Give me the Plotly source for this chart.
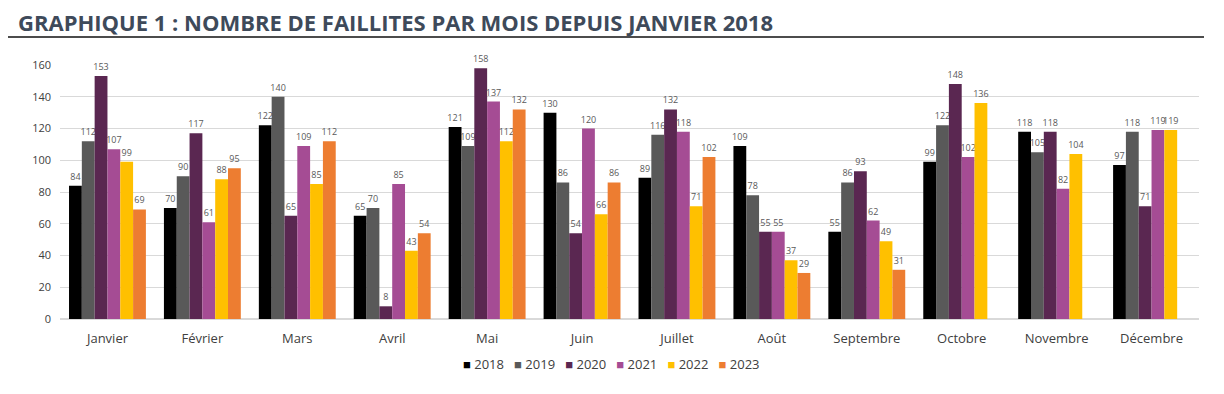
import plotly.graph_objects as go

months = ["Janvier", "Février", "Mars", "Avril", "Mai", "Juin", "Juillet",
          "Août", "Septembre", "Octobre", "Novembre", "Décembre"]
years = ["2018", "2019", "2020", "2021", "2022", "2023"]

v2018 = [84, 70, 122, 65, 121, 130, 89, 109, 55, 99, 118, 97]
v2019 = [112, 90, 140, 70, 109, 86, 116, 78, 86, 122, 105, 118]
v2020 = [153, 117, 65, 8, 158, 54, 132, 55, 93, 148, 118, 71]
v2021 = [107, 61, 109, 85, 137, 120, 118, 55, 62, 102, 82, 119]
v2022 = [99, 88, 85, 43, 112, 66, 71, 37, 49, 136, 104, 119]
v2023 = [69, 95, 112, 54, 132, 86, 102, 29, 31, None, None, None]

series = [v2018, v2019, v2020, v2021, v2022, v2023]
colors = ["#000000", "#595959", "#5A2751", "#A54C94", "#FFC000", "#ED7D31"]

# page body has an 8px margin: figure drawn from (8, 8)
OFF = 8
W, H = 1224 - OFF, 394 - OFF
ml, mr, mt, mb = 60 - OFF, 33 - OFF, 65 - OFF, 394 - 319

fig = go.Figure()
for name, vals, col in zip(years, series, colors):
    fig.add_trace(go.Bar(
        x=months, y=vals, name=name, marker_color=col, marker_line_width=0,
        text=[str(v) if v is not None else "" for v in vals],
        textposition="outside", cliponaxis=False,
        textfont=dict(size=9, color="#595959", family="Open Sans"),
        showlegend=False,
    ))

pw = W - ml - mr
ph = H - mt - mb

def px_x(x):
    return (x - OFF - ml) / pw

def px_y(y):
    return 1 - (y - OFF - mt) / ph

legend_text = "&nbsp;&nbsp;&nbsp;".join(
    f"<span style='color:{c}'>■</span>&nbsp;{y}" for y, c in zip(years, colors)
)

fig.update_layout(
    width=W, height=H, barmode="group", bargap=0.19, bargroupgap=0,
    margin=dict(l=ml, r=mr, t=mt, b=mb),
    plot_bgcolor="white", paper_bgcolor="white",
    font=dict(family="Open Sans", color="#404040"),
    uniformtext=dict(minsize=9, mode="show"),
    showlegend=False,
    xaxis=dict(showgrid=False, showline=False, ticks="", tickfont=dict(size=13, color="#404040"),
               ticklabelstandoff=10),
    yaxis=dict(range=[0, 160], dtick=20, showgrid=True, gridcolor="#D9D9D9", gridwidth=1,
               zeroline=True, zerolinecolor="#D9D9D9", showline=False,
               tickfont=dict(size=11, color="#404040"), ticklabelstandoff=8),
    annotations=[
        dict(text="<b>GRAPHIQUE 1 : NOMBRE DE FAILLITES PAR MOIS DEPUIS JANVIER 2018</b>",
             xref="paper", yref="paper", x=px_x(16), y=px_y(22),
             xanchor="left", yanchor="middle", showarrow=False,
             font=dict(size=22, color="#3E4A5A", family="Open Sans")),
        dict(text=legend_text, xref="paper", yref="paper", x=px_x(611), y=px_y(364),
             xanchor="center", yanchor="middle", showarrow=False,
             font=dict(size=13, color="#404040", family="Open Sans")),
    ],
    shapes=[dict(type="line", xref="paper", yref="paper",
                 x0=px_x(8), x1=px_x(1204), y0=px_y(37), y1=px_y(37),
                 line=dict(color="#111111", width=1.5))],
)

fig.write_html("out.html")
